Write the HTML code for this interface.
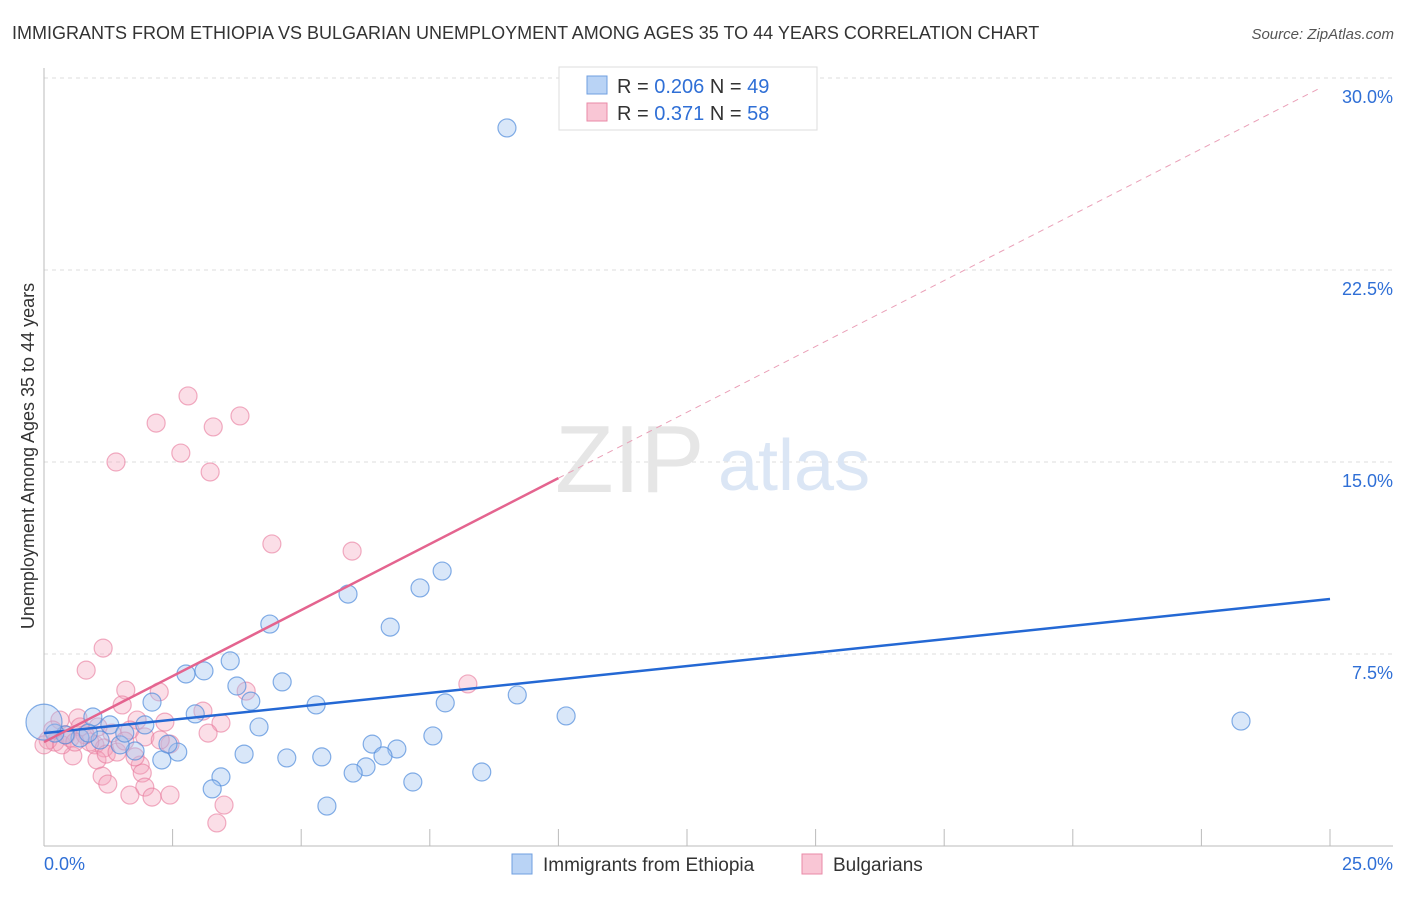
<!DOCTYPE html>
<html><head><meta charset="utf-8"><style>
body{margin:0;background:#fff;font-family:"Liberation Sans",sans-serif;}
svg text{font-family:"Liberation Sans",sans-serif;}
</style></head><body>
<svg width="1406" height="892" viewBox="0 0 1406 892">
<text x="12" y="39" font-size="18" fill="#333">IMMIGRANTS FROM ETHIOPIA VS BULGARIAN UNEMPLOYMENT AMONG AGES 35 TO 44 YEARS CORRELATION CHART</text>
<text x="1394" y="39" font-size="15" fill="#555" text-anchor="end" font-style="italic">Source: ZipAtlas.com</text>
<g id="grid"></g>
<g id="axes"></g>
<text x="555" y="492" font-size="96" fill="#e6e6e6" font-family="Liberation Serif">ZIP</text>
<text x="718" y="490" font-size="72" fill="#dbe6f5">atlas</text>
<g id="pts"></g>
<g id="lines"></g>
<text transform="translate(34,456) rotate(-90)" font-size="18" fill="#333" text-anchor="middle">Unemployment Among Ages 35 to 44 years</text>
<g>
<rect x="559" y="67" width="258" height="63" fill="#fff" stroke="#ddd"/>
<rect x="587" y="76" width="20" height="18" fill="#b9d3f5" stroke="#6f9fe0"/>
<rect x="587" y="103" width="20" height="18" fill="#f9c6d5" stroke="#e98aa7"/>
<text x="617" y="93" font-size="20" fill="#333">R = <tspan fill="#2f6fd6">0.206</tspan>   N = <tspan fill="#2f6fd6">49</tspan></text>
<text x="617" y="120" font-size="20" fill="#333">R =  <tspan fill="#2f6fd6">0.371</tspan>   N = <tspan fill="#2f6fd6">58</tspan></text>
</g>
<g>
<rect x="512" y="854" width="20" height="20" fill="#b9d3f5" stroke="#6f9fe0"/>
<text x="543" y="871" font-size="19" fill="#333">Immigrants from Ethiopia</text>
<rect x="802" y="854" width="20" height="20" fill="#f9c6d5" stroke="#e98aa7"/>
<text x="833" y="871" font-size="19" fill="#333">Bulgarians</text>
</g>
</svg>
<script>
const yTicks=[7.5,15,22.5,30];
const yTickLabels=["7.5%","15.0%","22.5%","30.0%"];
const xTickVals=[0,2.5,5,7.5,10,12.5,15,17.5,20,22.5,25];
const blueX=[9.00,7.74,7.31,5.91,6.73,4.39,3.62,2.76,3.11,3.75,4.63,2.10,4.02,5.29,2.94,0.95,1.96,4.18,9.20,10.15,23.27,7.80,7.56,6.38,6.86,6.59,6.26,6.01,5.40,4.72,3.89,3.44,3.27,5.50,7.17,8.51,2.60,2.29,2.41,1.77,1.48,1.28,1.57,1.09,0.70,0.41,0.21,0.00,0.86];
const blueY=[28.05,10.74,10.08,9.84,8.55,8.67,7.23,6.72,6.84,6.25,6.41,5.62,5.66,5.51,5.16,5.04,4.73,4.65,5.90,5.08,4.88,5.59,4.30,3.98,3.79,3.52,3.09,2.85,3.48,3.44,3.59,2.70,2.23,1.56,2.50,2.89,3.67,3.36,3.98,3.71,3.95,4.73,4.41,4.14,4.22,4.34,4.41,4.84,4.41];
const pinkX=[2.80,2.18,3.81,3.29,2.66,3.23,1.40,4.43,5.99,1.15,0.82,1.59,2.24,3.93,8.24,3.09,1.52,3.44,3.19,1.81,2.35,0.66,0.31,0.70,1.05,1.32,1.67,1.96,2.45,0.99,0.56,1.17,1.03,0.89,0.21,0.08,0.35,0.51,1.87,1.91,1.13,1.24,1.96,1.67,2.10,2.45,3.50,3.36,1.21,0.43,0.17,0.80,1.42,2.26,0.60,1.57,1.77,0.00];
const pinkY=[17.58,16.52,16.80,16.37,15.35,14.61,15.00,11.80,11.52,7.73,6.87,6.09,6.02,6.05,6.33,5.27,5.51,4.80,4.41,4.92,4.84,5.00,4.92,4.65,4.65,4.41,4.53,4.26,3.98,3.95,3.52,3.83,3.36,4.06,4.06,4.14,3.95,4.22,3.16,2.85,2.73,2.42,2.30,1.99,1.91,1.99,1.60,0.90,3.59,4.34,4.53,4.34,3.67,4.14,4.06,4.10,3.48,3.95];
const blueTrend=[[0,4.41],[25,9.65]];
const pinkTrend=[[0,4.06],[10,14.37]];
const pinkTrendExt=[[10,14.37],[24.8,29.6]];
const NS="http://www.w3.org/2000/svg";
const X=v=>44+v/25*1286, Y=v=>846-v/30*768;
function mk(t,a,p){const e=document.createElementNS(NS,t);for(const k in a)e.setAttribute(k,a[k]);p.appendChild(e);return e;}
const grid=document.getElementById('grid'),axes=document.getElementById('axes');
yTicks.forEach((v,i)=>{
 const l=mk('line',{x1:44,x2:1393,y1:Y(v),y2:Y(v),stroke:'#ddd','stroke-dasharray':'4,4'},grid);
 
 
 const t=mk('text',{x:1393,y:Y(v)+25,'font-size':18,fill:'#2f6fd6','text-anchor':'end'},axes);
 t.textContent=yTickLabels[i];
 
 
});
let a=mk('line',{x1:44,x2:44,y1:68,y2:846,stroke:'#bbb'},axes);


a=mk('line',{x1:44,x2:1393,y1:846,y2:846,stroke:'#bbb'},axes);


xTickVals.forEach(v=>{const l=mk('line',{x1:X(v),x2:X(v),y1:829,y2:846,stroke:'#bbb'},axes);
 
 });
let t=mk('text',{x:44,y:870,'font-size':18,fill:'#2f6fd6'},axes);t.textContent='0.0%';


t=mk('text',{x:1393,y:870,'font-size':18,fill:'#2f6fd6','text-anchor':'end'},axes);t.textContent='25.0%';


const pts=document.getElementById('pts');
pinkX.forEach((x,i)=>{const c=mk('circle',{cx:X(x),cy:Y(pinkY[i]),r:9,fill:'rgba(244,160,185,0.35)',stroke:'rgba(232,120,155,0.6)','stroke-width':1.2},pts);
 
 });
blueX.forEach((x,i)=>{const c=mk('circle',{cx:X(x),cy:Y(blueY[i]),r:x===0?18:9,fill:'rgba(160,196,240,0.4)',stroke:'rgba(80,140,220,0.7)','stroke-width':1.2},pts);
 
 });
const lines=document.getElementById('lines');
let ln=mk('line',{x1:X(blueTrend[0][0]),y1:Y(blueTrend[0][1]),x2:X(blueTrend[1][0]),y2:Y(blueTrend[1][1]),stroke:'#2468d4','stroke-width':2.5},lines);


ln=mk('line',{x1:X(pinkTrend[0][0]),y1:Y(pinkTrend[0][1]),x2:X(pinkTrend[1][0]),y2:Y(pinkTrend[1][1]),stroke:'#e4648f','stroke-width':2.5},lines);


ln=mk('line',{x1:X(pinkTrendExt[0][0]),y1:Y(pinkTrendExt[0][1]),x2:X(pinkTrendExt[1][0]),y2:Y(pinkTrendExt[1][1]),stroke:'#eaa0b8','stroke-width':1,'stroke-dasharray':'6,5'},lines);


</script>
</body></html>
